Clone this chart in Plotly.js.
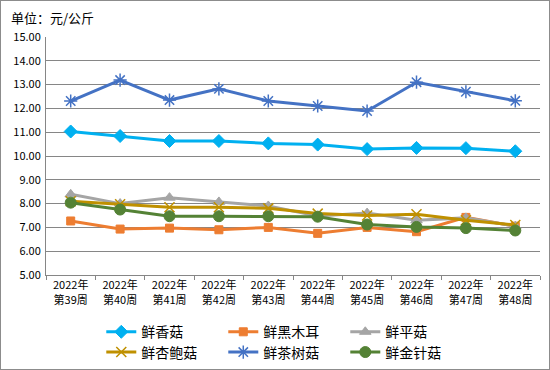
<!DOCTYPE html>
<html><head><meta charset="utf-8">
<script src="https://cdn.plot.ly/plotly-3.0.1.min.js"></script>
<style>
html,body{margin:0;padding:0;background:#fff;}
#wrap{width:548px;height:368px;border:1px solid #8c8c8c;}
</style></head>
<body><div id="wrap"><div id="chart" style="width:548px;height:368px;"></div></div>
<script>
const weeks = ["2022年<br>第39周","2022年<br>第40周","2022年<br>第41周","2022年<br>第42周","2022年<br>第43周","2022年<br>第44周","2022年<br>第45周","2022年<br>第46周","2022年<br>第47周","2022年<br>第48周"];
const xianggu   = [11.03,10.84,10.63,10.63,10.53,10.48,10.29,10.34,10.33,10.20];
const heimuer   = [7.27,6.93,6.97,6.90,7.00,6.75,7.00,6.82,7.42,7.05];
const pinggu    = [8.39,8.00,8.25,8.07,7.90,7.48,7.60,7.30,7.40,7.05];
const xingbaogu = [8.10,7.97,7.85,7.85,7.80,7.58,7.50,7.55,7.30,7.10];
const chashugu  = [12.31,13.19,12.35,12.82,12.31,12.10,11.89,13.10,12.70,12.32];
const jinzhengu = [8.04,7.75,7.47,7.47,7.47,7.45,7.12,7.02,6.97,6.87];
const yTicks = [5,6,7,8,9,10,11,12,13,14,15];

const FONT = '"Noto Sans CJK SC", "DejaVu Sans", sans-serif';
function tr(name, y, color, symbol, size, legend, extra) {
  const m = Object.assign({symbol: symbol, size: size, color: color, line: {color: color, width: 1}}, extra || {});
  return {x: weeks, y: y, name: name, type: 'scatter', mode: 'lines+markers',
    line: {color: color, width: 3}, marker: m, legend: legend};
}
const data = [
  tr('鲜香菇', xianggu, '#00B0F0', 'diamond', 10, 'legend'),
  tr('鲜黑木耳', heimuer, '#ED7D31', 'square', 8, 'legend'),
  tr('鲜平菇', pinggu, '#A5A5A5', 'triangle-up', 10, 'legend'),
  tr('鲜杏鲍菇', xingbaogu, '#BF9000', 'x-thin-open', 10, 'legend2', {line: {color: '#BF9000', width: 1.5}}),
  tr('鲜茶树菇', chashugu, '#4472C4', 'asterisk-open', 11, 'legend2', {line: {color: '#4472C4', width: 1.5}}),
  tr('鲜金针菇', jinzhengu, '#548235', 'circle', 11, 'legend2')
];
function leg(y) {
  return {orientation: 'h', xref: 'container', yref: 'container', xanchor: 'left', yanchor: 'middle',
    x: 0.183, y: y,
    entrywidth: 77, entrywidthmode: 'pixels', font: {family: FONT, size: 14, color: '#000'},
    bgcolor: 'rgba(0,0,0,0)', itemwidth: 30, tracegroupgap: 0};
}
const layout = {
  width: 548, height: 368,
  margin: {l: 45, r: 9, t: 36, b: 94, autoexpand: false},
  paper_bgcolor: '#fff', plot_bgcolor: '#fff',
  font: {family: FONT, size: 11, color: '#000'},
  showlegend: true,
  xaxis: {type: 'category', tickson: 'boundaries', ticks: 'outside', ticklen: 4, tickcolor: '#868686',
    showline: true, linecolor: '#868686', linewidth: 1, showgrid: false, automargin: false,
    tickfont: {family: FONT, size: 11, color: '#000'}, range: [-0.5, 9.5], fixedrange: true},
  yaxis: {range: [5, 15], tickvals: yTicks, ticktext: yTicks.map(v => v.toFixed(2)), automargin: false,
    showgrid: true, gridcolor: '#868686', gridwidth: 1, showline: true, linecolor: '#868686',
    ticks: '', zeroline: false, tickfont: {family: FONT, size: 11, color: '#000'}, ticklabelstandoff: 2},
  legend: leg(0.10),
  legend2: leg(0.045),
  annotations: [{text: '单位：元/公斤', xref: 'paper', yref: 'paper', x: -0.075, y: 1.08,
    xanchor: 'left', yanchor: 'middle', showarrow: false, font: {family: FONT, size: 13, color: '#000'}}]
};
Plotly.newPlot('chart', data, layout, {displayModeBar: false, staticPlot: true});
</script></body></html>
